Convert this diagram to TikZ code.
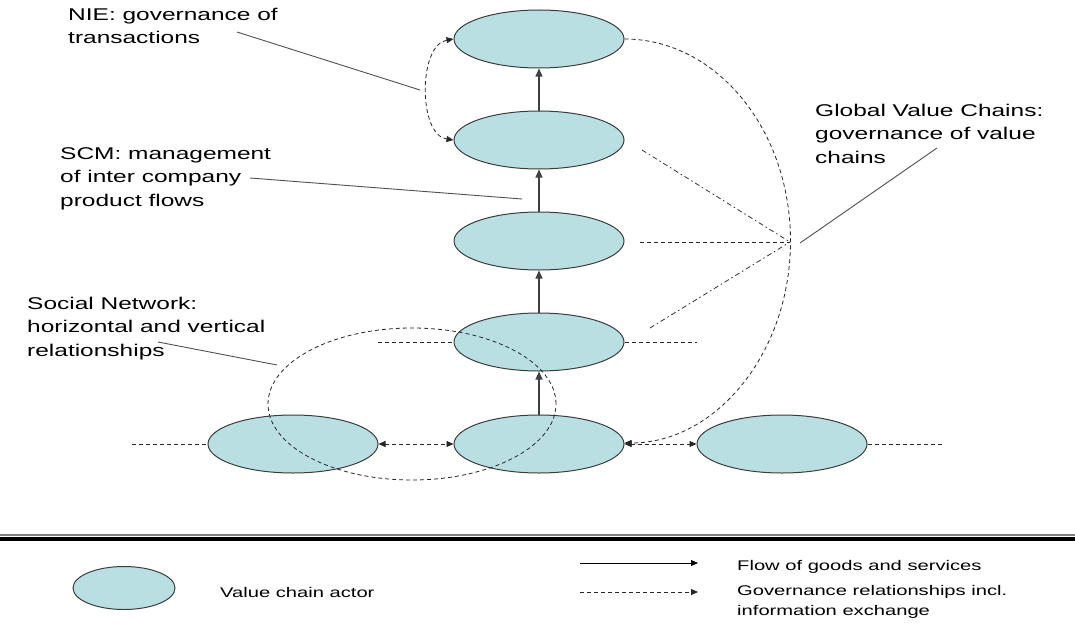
\documentclass[tikz,border=0pt]{standalone}
\usepackage{fontspec}
\setmainfont{Liberation Sans}[FakeStretch=1.44]
\usetikzlibrary{shapes.geometric,arrows.meta}
\definecolor{actorfill}{RGB}{185,223,227}
\definecolor{actorline}{RGB}{60,60,60}
\definecolor{leader}{RGB}{80,80,80}
\tikzset{
  actor/.style={ellipse, draw=actorline, line width=1pt, fill=actorfill,
                minimum width=170pt, minimum height=58pt, inner sep=0pt},
  tip/.style={-{Triangle[length=7pt,width=6pt]}},
  flow/.style={draw=black!75, line width=1.1pt, -{Triangle[length=8pt,width=7pt]}},
  gov/.style={draw=black!85, line width=0.8pt, dash pattern=on 4pt off 3pt},
  govdot/.style={draw=black!80, line width=0.8pt, dash pattern=on 5pt off 3pt on 1.5pt off 3pt},
  leaderline/.style={draw=leader, line width=0.9pt},
  lbl/.style={anchor=base west, inner sep=0pt, align=left,
              font=\fontsize{17}{23.5}\selectfont},
  legtxt/.style={anchor=base west, inner sep=0pt, align=left,
                 font=\fontsize{14}{20}\selectfont},
}
\begin{document}
\begin{tikzpicture}[x=1pt,y=-1pt]
\useasboundingbox (0,0) rectangle (1075,626);

% value chain actors
\node[actor] (top)   at (539,39)  {};
\node[actor] (scm)   at (539,140) {};
\node[actor] (mid)   at (539,241) {};
\node[actor] (soc)   at (539,342) {};
\node[actor] (left)  at (293,444) {};
\node[actor] (base)  at (539,444) {};
\node[actor] (right) at (782,444) {};

% flow of goods
\draw[flow] (scm.north)  -- (top.south);
\draw[flow] (mid.north)  -- (scm.south);
\draw[flow] (soc.north)  -- (mid.south);
\draw[flow] (base.north) -- (soc.south);

% horizontal governance links
\coordinate (lstub)  at (132,444);
\coordinate (rstub)  at (943,444);
\coordinate (slstub) at (378,342);
\coordinate (srstub) at (697,342);
\draw[gov] (lstub) -- (left.west);
\draw[gov] (right.east) -- (rstub);
\draw[gov] (slstub) -- (soc.west);
\draw[gov] (soc.east) -- (srstub);
\draw[gov, {Triangle[length=7pt,width=6pt]}-{Triangle[length=7pt,width=6pt]}] (left.east) -- (base.west);
\draw[gov, {Triangle[length=7pt,width=6pt]}-{Triangle[length=7pt,width=6pt]}] (base.east) -- (right.west);

% transaction governance between the two upper actors
\draw[gov, {Triangle[length=7pt,width=6pt]}-{Triangle[length=7pt,width=6pt]}]
  (top.west) .. controls (418,45) and (418,135) .. (scm.west);

% global value chain governance
\coordinate (hub) at (790,242);
\coordinate (e2) at (642,150);
\coordinate (e3) at (640,242);
\coordinate (e4) at (650,328);
\draw[govdot] (e2) -- (hub);
\draw[gov] (e3) -- (hub);
\draw[govdot] (e4) -- (hub);
\draw[gov, tip] (top.east) arc[start angle=90, end angle=-90, x radius=166pt, y radius=202pt];

% social network
\draw[gov] (412,404) ellipse [x radius=144pt, y radius=76pt];

% labels (anchored at the baseline of their last line) and leader lines
\node[lbl] (nie) at (68,44) {NIE: governance of\\transactions};
\node[lbl] (scmlbl) at (60,206) {SCM: management\\of inter company\\product flows};
\node[lbl] (snlbl) at (27,356) {Social Network:\\horizontal and vertical\\relationships};
\node[lbl] (gvc) at (815,163) {Global Value Chains:\\governance of value\\chains};

\coordinate (nieA) at (237,32);  \coordinate (nieB) at (420,90);
\coordinate (scmA) at (250,178); \coordinate (scmB) at (522,199);
\coordinate (snA)  at (158,342); \coordinate (snB)  at (277,365);
\coordinate (gvA)  at (800,243); \coordinate (gvB)  at (937,148);
\draw[leaderline] (nieA) -- (nieB);
\draw[leaderline] (scmA) -- (scmB);
\draw[leaderline] (snA) -- (snB);
\draw[leaderline] (gvA) -- (gvB);

% separator
\draw[draw=black!50, line width=1.5pt] (0,535) -- (1075,535);
\draw[draw=black, line width=4.5pt] (0,539) -- (1075,539);

% legend
\node[actor, minimum width=102pt, minimum height=43pt] (legactor) at (124,588) {};
\node[legtxt] (legactortxt) at (220,597) {Value chain actor};
\coordinate (lfA) at (580,563); \coordinate (lfB) at (698,563);
\coordinate (lgA) at (580,592); \coordinate (lgB) at (698,592);
\draw[draw=black, line width=0.9pt, tip] (lfA) -- (lfB);
\draw[gov, tip] (lgA) -- (lgB);
\node[legtxt] (legflow) at (737,570) {Flow of goods and services};
\node[legtxt] (leggov) at (737,615) {Governance relationships incl.\\information exchange};
\end{tikzpicture}
\end{document}
